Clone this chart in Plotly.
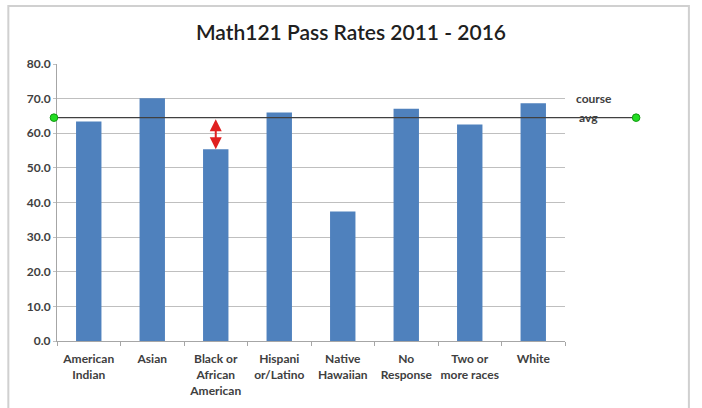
import plotly.graph_objects as go

categories = ["American<br>Indian", "Asian", "Black or<br>African<br>American", "Hispani<br>or/Latino",
              "Native<br>Hawaiian", "No<br>Response", "Two or<br>more races", "White"]
pass_rates = [63.4, 70.1, 55.4, 66.0, 37.4, 67.1, 62.5, 68.7]
course_avg = 64.5
y_ticks = [0, 10, 20, 30, 40, 50, 60, 70, 80]
y_tick_labels = ["%.1f" % v for v in y_ticks]
gap_category = categories[2]
gap_value = pass_rates[2]

TICKFONT = dict(family="Lato", size=12, color="#404040", weight=700)

fig = go.Figure()
fig.add_trace(go.Bar(x=categories, y=pass_rates, marker=dict(color="#4f81bd", line=dict(width=0)),
                     showlegend=False, hoverinfo="x+y"))

x_left, x_right = -0.006, 1.14
dot_r_x, dot_r_y = 0.0075, 1.1

shapes = [
    dict(type="rect", xref="paper", yref="paper", x0=-0.0958, x1=1.2439, y0=-0.5, y1=1.2094,
         line=dict(color="#d0d0d0", width=2), layer="below"),
    dict(type="line", xref="paper", yref="y", x0=x_left, x1=x_right, y0=course_avg, y1=course_avg,
         line=dict(color="#404040", width=1.3), layer="above"),
]
for xc in (x_left, x_right):
    shapes.append(dict(type="circle", xref="paper", yref="y", x0=xc - dot_r_x, x1=xc + dot_r_x,
                       y0=course_avg - dot_r_y, y1=course_avg + dot_r_y,
                       fillcolor="#22dd22", line=dict(color="#119911", width=1), layer="above"))

fig.update_layout(
    width=702, height=408,
    margin=dict(l=57, r=137, t=64, b=67),
    paper_bgcolor="white", plot_bgcolor="white",
    font=dict(family="Lato", size=12, color="#404040"),
    title=dict(text="Math121 Pass Rates 2011 - 2016", x=0.5, xanchor="center", y=0.92, yanchor="middle",
               font=dict(family="Lato", size=21, color="#202020", weight=600)),
    bargap=0.6,
    xaxis=dict(showgrid=False, showline=True, linecolor="#a6a6a6", linewidth=1, ticks="outside",
               tickson="boundaries", ticklen=4, tickcolor="#a6a6a6", tickfont=TICKFONT, tickangle=0,
               ticklabelstandoff=7, automargin=False, fixedrange=True),
    yaxis=dict(range=[0, 80], tickvals=y_ticks, ticktext=y_tick_labels, showgrid=True, gridcolor="#bfbfbf",
               gridwidth=1, showline=True, linecolor="#a6a6a6", linewidth=1, ticks="outside", ticklen=3,
               tickcolor="#bfbfbf", zeroline=False, tickfont=TICKFONT, automargin=False, fixedrange=True),
    shapes=shapes,
    annotations=[
        dict(x=gap_category, y=gap_value, ax=gap_category, ay=course_avg, xref="x", yref="y",
             axref="x", ayref="y", showarrow=True, arrowhead=2, startarrowhead=2, arrowside="end+start",
             arrowcolor="#e02020", arrowwidth=2, arrowsize=1.2, startarrowsize=1.2, text=""),
        dict(text="course", xref="paper", yref="y", x=1.018, y=course_avg, yshift=19, xanchor="left",
             yanchor="middle", showarrow=False, font=TICKFONT),
        dict(text="avg", xref="paper", yref="y", x=1.024, y=course_avg, yshift=0, xanchor="left",
             yanchor="middle", showarrow=False, font=TICKFONT),
    ],
)

fig.write_html("out.html", config={"displayModeBar": False},
               post_script="document.body.style.margin='0';")
